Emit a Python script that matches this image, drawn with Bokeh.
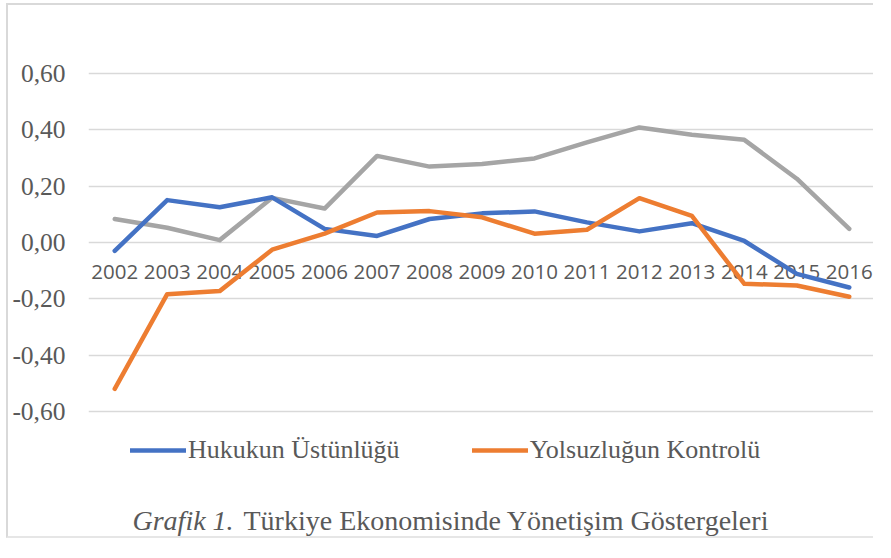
from bokeh.plotting import figure
from bokeh.models import (Range1d, FactorRange, FixedTicker, CustomJSTickFormatter,
                          Legend, LegendItem, Label)
from bokeh.core.properties import value
from bokeh.embed import file_html
from bokeh.resources import INLINE

# ---- data -------------------------------------------------------------
years = ["2002", "2003", "2004", "2005", "2006", "2007", "2008", "2009",
         "2010", "2011", "2012", "2013", "2014", "2015", "2016"]
hukukun_ustunlugu = [-0.030, 0.150, 0.125, 0.160, 0.048, 0.023, 0.083, 0.103,
                     0.110, 0.071, 0.039, 0.068, 0.005, -0.112, -0.160]
yolsuzlugun_kontrolu = [-0.520, -0.184, -0.173, -0.026, 0.031, 0.106, 0.111, 0.089,
                        0.031, 0.045, 0.157, 0.094, -0.147, -0.153, -0.193]
ucuncu_seri = [0.083, 0.052, 0.008, 0.158, 0.120, 0.307, 0.269, 0.278,
               0.298, 0.355, 0.408, 0.382, 0.364, 0.226, 0.048]
y_ticks = [-0.6, -0.4, -0.2, 0.0, 0.2, 0.4, 0.6]
legend_labels = ["Hukukun Üstünlüğü", "Yolsuzluğun Kontrolü"]
caption_italic = "Grafik 1."
caption_text = "Türkiye Ekonomisinde Yönetişim Göstergeleri"

# ---- figure -----------------------------------------------------------
p = figure(width=867, height=535,
           x_range=FactorRange(factors=years, range_padding=0),
           y_range=Range1d(-1.0583, 0.8409),
           x_axis_location=None,
           output_backend="svg", toolbar_location=None,
           min_border_left=80, min_border_right=0,
           min_border_top=0, min_border_bottom=0)
p.styles = {"margin-left": "6px", "margin-top": "3px",
            "border-left": "2px solid #d9d9d9", "border-top": "2px solid #d9d9d9",
            "border-bottom": "2px solid #e6e6e6"}
p.outline_line_color = None
p.background_fill_color = "white"
p.border_fill_color = "white"

ax = p.yaxis[0]
ax.ticker = FixedTicker(ticks=y_ticks)
ax.formatter = CustomJSTickFormatter(
    code="return tick.toFixed(2).replace('.', ',').replace('-0,00','0,00');")
ax.axis_line_color = None
ax.major_tick_line_color = None
ax.minor_tick_line_color = None
ax.major_tick_out = 0
ax.major_tick_in = 0
ax.major_label_standoff = 23
ax.major_label_text_font = "Liberation Serif"
ax.major_label_text_font_size = "25.5px"
ax.major_label_text_color = "#595959"

p.xgrid.grid_line_color = None
p.ygrid.grid_line_color = "#d9d9d9"
p.ygrid.grid_line_width = 1.5

# category labels along the zero line
p.text(x=years, y=0, text=years, text_font=value("Open Sans"),
       text_font_size="20.5px", text_color="#595959",
       text_align="center", text_baseline="middle", y_offset=30)

common = dict(line_width=4.5, line_join="round", line_cap="round")
r_gray = p.line(years, ucuncu_seri, line_color="#A5A5A5", **common)
r_blue = p.line(years, hukukun_ustunlugu, line_color="#4472C4", **common)
r_orange = p.line(years, yolsuzlugun_kontrolu, line_color="#ED7D31", **common)

legend = Legend(items=[LegendItem(label=legend_labels[0], renderers=[r_blue]),
                       LegendItem(label=legend_labels[1], renderers=[r_orange])],
                orientation="horizontal", location=(42, 75),
                label_text_font="Liberation Serif", label_text_font_size="26px",
                label_text_color="#595959", glyph_width=56, glyph_height=20,
                label_standoff=2, spacing=72, padding=0, margin=0,
                border_line_color=None, background_fill_alpha=0)
p.add_layout(legend)

p.add_layout(Label(x=44, y=36, x_units="screen", y_units="screen", text=caption_italic,
                   text_font="Liberation Serif", text_font_size="28px",
                   text_font_style="italic", text_color="#595959",
                   text_baseline="top"))
p.add_layout(Label(x=155, y=36, x_units="screen", y_units="screen", text=caption_text,
                   text_font="Liberation Serif", text_font_size="28px",
                   text_color="#595959", text_baseline="top"))

open("out.html", "w").write(file_html(p, INLINE))
